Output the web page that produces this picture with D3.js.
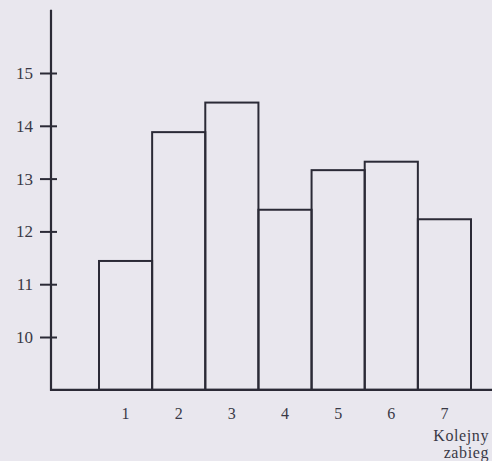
<!DOCTYPE html>
<html>
<head>
<meta charset="utf-8">
<script src="https://cdn.jsdelivr.net/npm/d3@7"></script>
<style>
  body { margin: 0; background: #e9e7ee; overflow: hidden; }
  svg { display: block; }
  text { font-family: "Liberation Serif", "DejaVu Serif", serif; }
</style>
</head>
<body>
<script>
  const zabiegi = ['1', '2', '3', '4', '5', '6', '7'];
  const wartosci = [11.44, 13.88, 14.44, 12.41, 13.16, 13.32, 12.23];
  const yTicks = [10, 11, 12, 13, 14, 15];

  const WIDTH = 492;
  const HEIGHT = 461;
  const INK = '#2b2a36';
  const SERIF = '"Liberation Serif", "DejaVu Serif", serif';

  const svg = d3.select('body').append('svg')
    .attr('width', WIDTH)
    .attr('height', HEIGHT);

  // wartosc 9 = podstawa, 10 -> 337, 15 -> 73
  const y = d3.scaleLinear()
    .domain([10, 15])
    .range([337, 73]);

  const x = d3.scaleBand()
    .domain(zabiegi)
    .range([99, 471])
    .paddingInner(0);

  const base = y(9);

  // slupki
  svg.append('g')
    .selectAll('rect')
    .data(wartosci)
    .enter()
    .append('rect')
    .attr('x', (d, i) => x(zabiegi[i]))
    .attr('width', x.bandwidth())
    .attr('y', d => y(d))
    .attr('height', d => base - y(d))
    .attr('fill', 'none')
    .attr('stroke', INK)
    .attr('stroke-width', 2);

  // os Y
  const axisY = d3.axisLeft(y)
    .tickValues(yTicks)
    .tickSize(11)
    .tickPadding(7)
    .tickFormat(d => d);

  const gy = svg.append('g')
    .attr('transform', 'translate(51,0)')
    .call(axisY);

  gy.select('.domain').remove();
  gy.selectAll('.tick line')
    .attr('x1', 6)
    .attr('stroke', INK)
    .attr('stroke-width', 2);
  gy.selectAll('.tick text')
    .style('font-family', SERIF)
    .style('font-size', '17px')
    .attr('fill', '#3a3946');

  svg.append('line')
    .attr('x1', 51).attr('x2', 51)
    .attr('y1', y(16.2)).attr('y2', base + 1)
    .attr('stroke', INK)
    .attr('stroke-width', 2.2);

  // podstawa
  svg.append('line')
    .attr('x1', 50).attr('x2', 492)
    .attr('y1', base).attr('y2', base)
    .attr('stroke', INK)
    .attr('stroke-width', 2.2);

  // os X (etykiety)
  const axisX = d3.axisBottom(x).tickSize(0).tickPadding(0);
  const gx = svg.append('g')
    .attr('transform', `translate(0,${base + 29})`)
    .call(axisX);
  gx.select('.domain').remove();
  gx.selectAll('.tick text')
    .attr('dy', 0)
    .style('font-family', SERIF)
    .style('font-size', '16px')
    .attr('fill', '#3a3946');

  // podpis osi X, dosuniety do prawej krawedzi
  svg.append('text')
    .attr('x', 489).attr('y', 441)
    .attr('text-anchor', 'end')
    .style('font-family', SERIF)
    .style('font-size', '16px')
    .attr('fill', '#3a3946')
    .attr('letter-spacing', 0.6)
    .text('Kolejny');

  svg.append('text')
    .attr('x', 489).attr('y', 458)
    .attr('text-anchor', 'end')
    .style('font-family', SERIF)
    .style('font-size', '16px')
    .attr('fill', '#3a3946')
    .attr('letter-spacing', 0.6)
    .text('zabieg');
</script>
</body>
</html>
